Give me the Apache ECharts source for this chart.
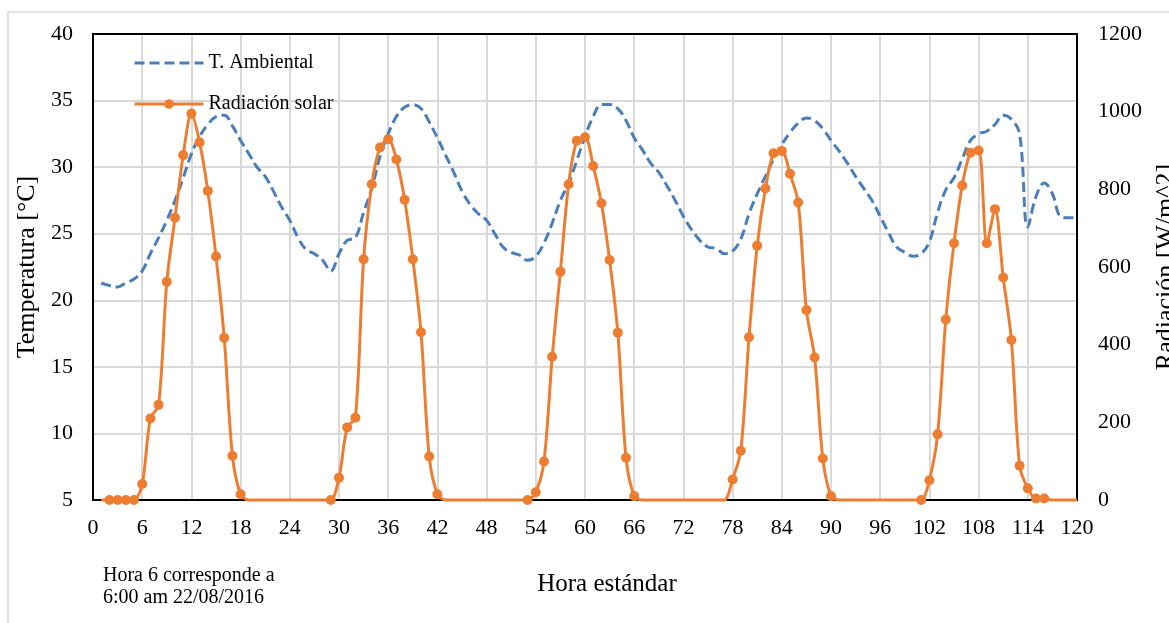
<!DOCTYPE html>
<html>
<head>
<meta charset="utf-8">
<title>Temperatura y radiación</title>
<script src="https://cdn.jsdelivr.net/npm/echarts@6/dist/echarts.min.js"></script>
<style>
  html, body { margin: 0; padding: 0; background: #fff; }
  #chart { width: 1169px; height: 623px; }
</style>
</head>
<body>
<div id="chart"></div>
<script>
// hourly readings, hour 1 .. 120
const tempAmbiente = [
  21.3, 21.1, 21.0, 21.3, 21.6, 22.2, 23.5, 24.7, 26.0, 27.5, 29.2, 31.0,
  32.3, 33.2, 33.8, 33.9, 33.1, 32.0, 31.0, 30.0, 29.3, 28.2, 27.0, 26.0,
  24.7, 23.8, 23.5, 23.0, 22.2, 23.5, 24.5, 24.7, 26.6, 28.4, 30.8, 32.5,
  33.8, 34.5, 34.7, 34.4, 33.4, 32.2, 30.9, 29.6, 28.2, 27.2, 26.5, 26.0,
  25.0, 24.0, 23.6, 23.4, 23.0, 23.3, 24.3, 25.8, 27.5, 28.8, 30.5, 32.3,
  33.8, 34.7, 34.7, 34.4, 33.5, 32.2, 31.3, 30.3, 29.6, 28.6, 27.5, 26.3,
  25.3, 24.5, 24.0, 23.9, 23.5, 23.7, 24.6, 26.5, 28.0, 29.3, 30.6, 31.7,
  32.6, 33.3, 33.7, 33.5, 32.9, 32.0, 31.2, 30.3, 29.3, 28.4, 27.5, 26.3,
  25.1, 24.0, 23.6, 23.3, 23.5, 24.4, 26.6, 28.3, 29.2, 30.6, 32.0, 32.5,
  32.7, 33.2, 33.9, 33.6, 32.5, 25.5, 27.8, 28.8, 28.0, 26.3, 26.2, 26.2
];

// null = no reading (night), drawn flat on zero without a marker
const radiacion = [
  null, 0, 0, 0, 0, 41, 210, 245, 562, 727, 888, 995,
  921, 796, 627, 418, 114, 15, null, null, null, null, null, null,
  null, null, null, null, 0, 57, 187, 212, 620, 813, 908, 929,
  877, 773, 620, 432, 112, 15, null, null, null, null, null, null,
  null, null, null, null, 0, 20, 99, 369, 588, 813, 925, 934,
  860, 764, 618, 431, 109, 10, null, null, null, null, null, null,
  null, null, null, null, null, 53, 127, 419, 655, 802, 893, 899,
  840, 766, 489, 367, 107, 10, null, null, null, null, null, null,
  null, null, null, null, 0, 51, 169, 465, 661, 810, 894, 900,
  661, 749, 573, 412, 88, 30, 4, 4, null, null, null, null
];

const serieNames = ['T. Ambiental', 'Radiación solar'];
const nota = 'Hora 6 corresponde a\n6:00 am 22/08/2016';

const FONT = '"Liberation Serif", "Times New Roman", serif';
const BLUE = '#4a7ebb';
const ORANGE = '#ed7d31';
const GRID_GRAY = '#d9d9d9';

const tempData = tempAmbiente.map((t, i) => [i + 1, t]);
const radData = radiacion.map((v, i) =>
  v === null ? { value: [i + 1, 0], symbol: 'none' } : [i + 1, v]
);

const chart = echarts.init(document.getElementById('chart'), null, { renderer: 'canvas' });

const blackLine = { show: true, onZero: false, lineStyle: { color: '#000', width: 2 } };

const option = {
  animation: false,
  backgroundColor: '#fff',
  textStyle: { fontFamily: FONT, color: '#000' },
  graphic: [
    {
      type: 'rect',
      shape: { x: 8, y: 12, width: 1300, height: 700 },
      style: { fill: 'none', stroke: GRID_GRAY, lineWidth: 1.5 },
      silent: true
    },
    {
      type: 'text',
      x: 103,
      y: 565,
      style: {
        text: nota,
        font: '20px ' + FONT,
        fill: '#000',
        lineHeight: 22,
        verticalAlign: 'top'
      }
    }
  ],
  grid: {
    left: 93, right: 92, top: 34, bottom: 123,
    outerBoundsMode: 'none',
    containLabel: false
  },
  legend: {
    data: [
      { name: serieNames[0], itemStyle: { opacity: 0 } },
      { name: serieNames[1] }
    ],
    orient: 'vertical',
    left: 128,
    top: 48,
    itemWidth: 69,
    itemHeight: 12,
    itemGap: 21,
    lineStyle: { width: 3 },
    textStyle: { fontFamily: FONT, fontSize: 20, color: '#000' }
  },
  xAxis: [
    {
      type: 'value',
      position: 'bottom',
      min: 0, max: 120, interval: 6,
      name: 'Hora estándar',
      nameLocation: 'middle',
      nameGap: 72,
      nameTextStyle: { fontFamily: FONT, fontSize: 25, color: '#000', padding: [0, 0, 0, 44] },
      axisLine: blackLine,
      axisTick: { show: false },
      axisLabel: { fontFamily: FONT, fontSize: 22, color: '#000', margin: 17 },
      splitLine: { show: true, lineStyle: { color: GRID_GRAY, width: 2 } }
    },
    {
      type: 'value',
      position: 'top',
      min: 0, max: 120, interval: 6,
      axisLine: blackLine,
      axisTick: { show: false },
      axisLabel: { show: false },
      splitLine: { show: false }
    }
  ],
  yAxis: [
    {
      type: 'value',
      min: 5, max: 40, interval: 5,
      name: 'Temperatura [°C]',
      nameLocation: 'middle',
      nameGap: 45,
      nameRotate: 90,
      nameTextStyle: { fontFamily: FONT, fontSize: 26, color: '#000' },
      axisLine: blackLine,
      axisTick: { show: false },
      axisLabel: { fontFamily: FONT, fontSize: 22, color: '#000', margin: 20 },
      splitLine: { show: true, lineStyle: { color: GRID_GRAY, width: 2 } }
    },
    {
      type: 'value',
      position: 'right',
      min: 0, max: 1200, interval: 200,
      name: 'Radiación [W/m^2]',
      nameLocation: 'middle',
      nameGap: 64,
      nameRotate: 90,
      nameTextStyle: { fontFamily: FONT, fontSize: 26, color: '#000' },
      axisLine: blackLine,
      axisTick: { show: false },
      axisLabel: {
        fontFamily: FONT, fontSize: 22, color: '#000', margin: 21,
        formatter: v => String(v)
      },
      splitLine: { show: false }
    }
  ],
  series: [
    {
      name: serieNames[0],
      type: 'line',
      xAxisIndex: 0,
      yAxisIndex: 0,
      data: tempData,
      smooth: 0.4,
      showSymbol: false,
      symbol: 'none',
      color: BLUE,
      lineStyle: { color: BLUE, width: 3, type: [10, 5] },
      z: 2
    },
    {
      name: serieNames[1],
      type: 'line',
      xAxisIndex: 0,
      yAxisIndex: 1,
      data: radData,
      smooth: 0.3,
      symbol: 'circle',
      symbolSize: 10,
      showSymbol: true,
      clip: false,
      color: ORANGE,
      itemStyle: { color: ORANGE },
      lineStyle: { color: ORANGE, width: 3 },
      z: 3
    }
  ]
};

chart.setOption(option);
</script>
</body>
</html>
